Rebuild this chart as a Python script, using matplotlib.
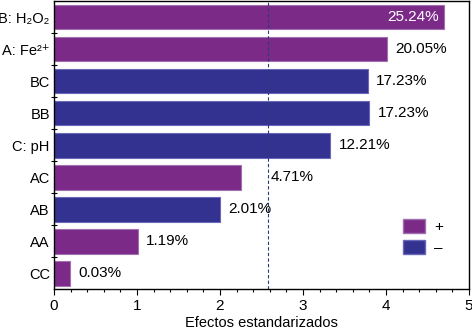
import matplotlib.pyplot as plt
import numpy as np
from matplotlib.patches import Patch
from matplotlib.ticker import MultipleLocator, FixedLocator

plt.rcParams['font.family'] = ['Liberation Sans', 'DejaVu Sans']

# data (top to bottom)
labels = ['B: H₂O₂', 'A: Fe²⁺', 'BC', 'BB', 'C: pH', 'AC', 'AB', 'AA', 'CC']
effects = [4.70, 4.01, 3.78, 3.80, 3.33, 2.25, 2.00, 1.01, 0.19]
percents = ['25.24%', '20.05%', '17.23%', '17.23%', '12.21%', '4.71%', '2.01%', '1.19%', '0.03%']
signs = ['+', '+', '-', '-', '-', '+', '-', '+', '+']
t_crit = 2.575

purple = '#7b2a87'
blue = '#343291'
colors = [purple if s == '+' else blue for s in signs]
edges = ['#a070b0' if s == '+' else '#6a68b8' for s in signs]

fig = plt.figure(figsize=(4.72, 3.33), dpi=100)
ax = fig.add_axes([0.1144, 0.132, 0.8792, 0.865])

y = np.arange(len(labels))[::-1]
ax.barh(y, effects, height=0.78, color=colors, edgecolor=edges, linewidth=0.8)
ax.axvline(t_crit, color='#2b3a7a', linestyle=(0, (3, 2)), linewidth=0.8)

for yi, val, txt in zip(y, effects, percents):
    if val > 4.5:
        ax.text(val - 0.06, yi, txt, ha='right', va='center', color='white', fontsize=11)
    elif val < t_crit < val + 0.5:
        ax.text(t_crit + 0.03, yi, txt, ha='left', va='center', color='black', fontsize=11)
    else:
        ax.text(val + 0.1, yi, txt, ha='left', va='center', color='black', fontsize=11)

ax.set_xlim(0, 5)
ax.set_ylim(-0.5, len(labels) - 0.5)
ax.set_yticks(y)
ax.set_yticklabels(labels, fontsize=10.5)
ax.yaxis.set_minor_locator(FixedLocator(np.arange(0.5, len(labels) - 0.5, 1)))
ax.tick_params(axis='y', which='major', length=0, pad=3)
ax.tick_params(axis='y', which='minor', length=4, direction='inout', width=0.8)
ax.xaxis.set_major_locator(MultipleLocator(1))
ax.xaxis.set_minor_locator(MultipleLocator(0.2))
ax.tick_params(axis='x', which='major', length=4, width=0.8, labelsize=11, pad=3)
ax.tick_params(axis='x', which='minor', length=2.5, width=0.8)
ax.set_xlabel('Efectos estandarizados', fontsize=10.5, labelpad=2)
for s in ax.spines.values():
    s.set_linewidth(1.0)

handles = [Patch(facecolor=purple, edgecolor='#a070b0', label='+'),
           Patch(facecolor=blue, edgecolor='#6a68b8', label='–')]
ax.legend(handles=handles, loc='lower right', bbox_to_anchor=(0.97, 0.07), frameon=False,
          fontsize=11, handlelength=1.4, handleheight=1.1, handletextpad=0.6, labelspacing=0.35)

fig.savefig('out.png', dpi=100)
